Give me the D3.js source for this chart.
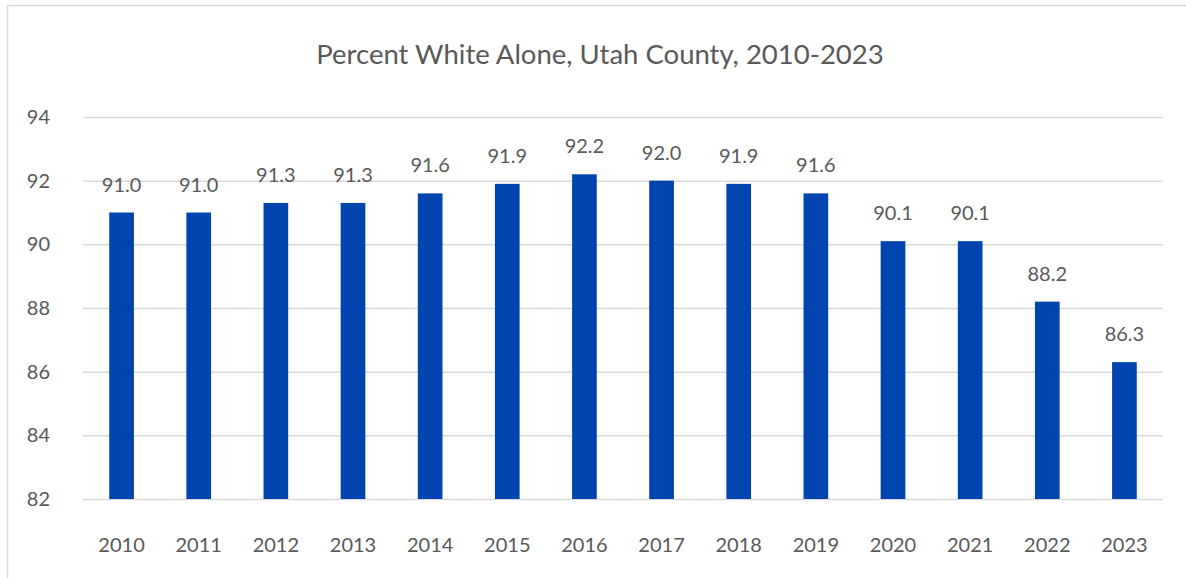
<!DOCTYPE html>
<html>
<head>
<meta charset="utf-8">
<script src="https://cdn.jsdelivr.net/npm/d3@7"></script>
<style>
  body { margin: 0; background: #fff; }
  text { font-family: Lato, "Open Sans", sans-serif; fill: #595959; }
</style>
</head>
<body>
<svg id="chart"></svg>
<script>
// data
const years = ['2010', '2011', '2012', '2013', '2014', '2015', '2016', '2017', '2018', '2019', '2020', '2021', '2022', '2023'];
const percentWhite = [91.0, 91.0, 91.3, 91.3, 91.6, 91.9, 92.2, 92.0, 91.9, 91.6, 90.1, 90.1, 88.2, 86.3];
const yTicks = [82, 84, 86, 88, 90, 92, 94];
const title = 'Percent White Alone, Utah County, 2010-2023';

// settings
const config = {
  width: 1186,
  height: 578,
  plot: { left: 83, right: 1163, top: 117, bottom: 499 },
  barColor: '#0044b0',
  gridColor: '#d9d9d9',
  fontSize: 20,
};

const svg = d3.select('#chart')
  .attr('width', config.width)
  .attr('height', config.height);

// chart border (runs off the right and bottom edge)
svg.append('rect')
  .attr('x', 7.5)
  .attr('y', 5.5)
  .attr('width', 1200)
  .attr('height', 600)
  .attr('fill', 'none')
  .attr('stroke', '#d9d9d9')
  .attr('stroke-width', 1.5);

const x = d3.scaleBand()
  .domain(years)
  .range([config.plot.left, config.plot.right])
  .paddingInner(0.68)
  .paddingOuter(0.34);

const y = d3.scaleLinear()
  .domain([82, 94])
  .range([config.plot.bottom, config.plot.top]);

// gridlines + y labels
const yAxis = d3.axisLeft(y)
  .tickValues(yTicks)
  .tickSize(-(config.plot.right - config.plot.left))
  .tickPadding(33)
  .tickFormat(d3.format('d'));

const yG = svg.append('g')
  .attr('transform', `translate(${config.plot.left}, 0)`)
  .call(yAxis);
yG.select('.domain').remove();
yG.selectAll('line').attr('stroke', config.gridColor).attr('stroke-width', 1.5);
yG.selectAll('text')
  .attr('font-size', config.fontSize)
  .attr('fill', '#595959')
  .style('font-family', 'Lato, "Open Sans", sans-serif');

// x labels
const xAxis = d3.axisBottom(x).tickSize(0).tickPadding(39);
const xG = svg.append('g')
  .attr('transform', `translate(0, ${config.plot.bottom})`)
  .call(xAxis);
xG.select('.domain').remove();
xG.selectAll('text')
  .attr('font-size', config.fontSize)
  .attr('fill', '#595959')
  .style('font-family', 'Lato, "Open Sans", sans-serif');

const rows = years.map((yr, i) => ({ year: yr, value: percentWhite[i] }));

// bars
svg.append('g').selectAll('rect')
  .data(rows)
  .join('rect')
  .attr('x', d => x(d.year))
  .attr('width', x.bandwidth())
  .attr('y', d => y(d.value))
  .attr('height', d => y(82) - y(d.value))
  .attr('fill', config.barColor);

// value labels
svg.append('g').selectAll('text')
  .data(rows)
  .join('text')
  .attr('x', d => x(d.year) + x.bandwidth() / 2)
  .attr('y', d => y(d.value) - 21)
  .attr('text-anchor', 'middle')
  .attr('font-size', config.fontSize)
  .text(d => d.value.toFixed(1));

// title
svg.append('text')
  .attr('x', 600)
  .attr('y', 64)
  .attr('text-anchor', 'middle')
  .attr('font-size', 27.5)
  .text(title);
</script>
</body>
</html>
